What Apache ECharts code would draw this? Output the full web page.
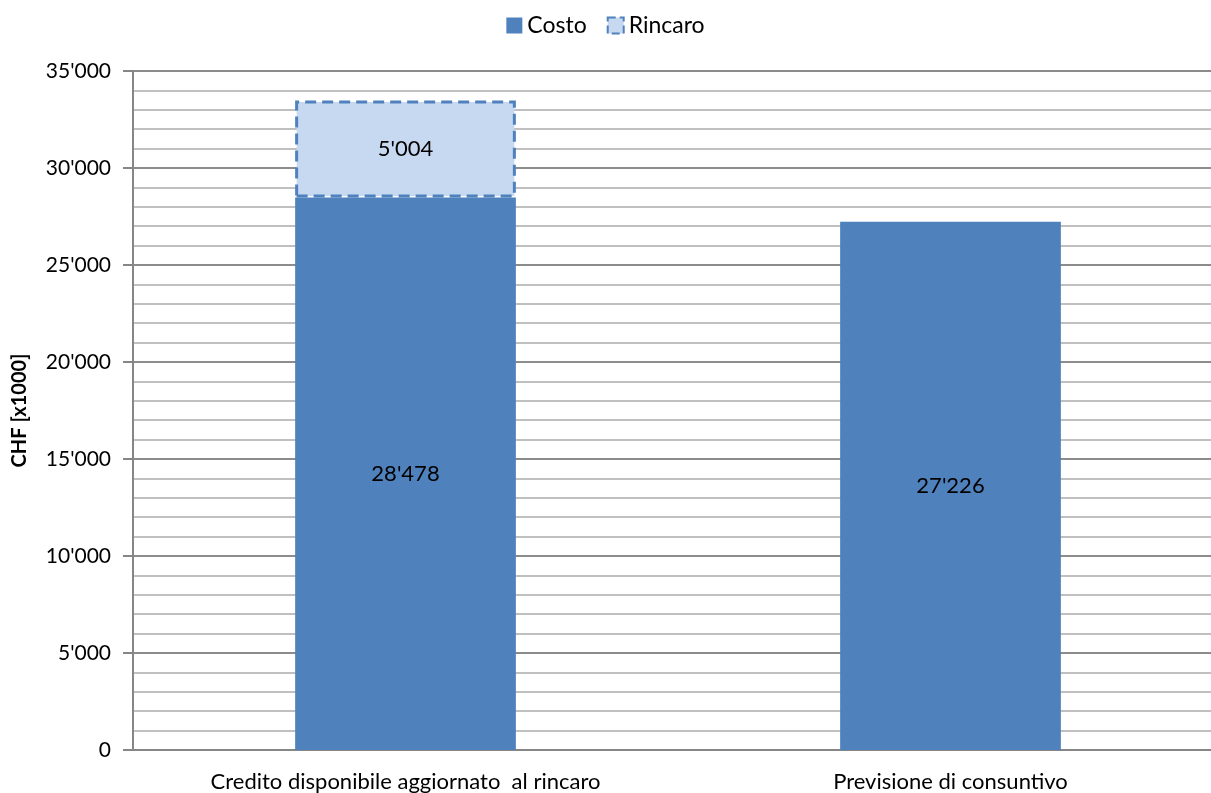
<!DOCTYPE html>
<html><head><meta charset="utf-8">
<script src="https://cdn.jsdelivr.net/npm/echarts@6/dist/echarts.min.js"></script>
<style>html,body{margin:0;padding:0;background:#fff;overflow:hidden}#c{width:1211px;height:793px}</style>
</head><body><div id="c"></div>
<script>
const categories = ["Credito disponibile aggiornato  al rincaro", "Previsione di consuntivo"];
const costo = [28478, 27226];
const rincaro = [5004, null];
const yTicks = [0, 5000, 10000, 15000, 20000, 25000, 30000, 35000];

function fmt(v){ return String(Math.round(v)).replace(/\B(?=(\d{3})+(?!\d))/g, "'"); }

const FONT = 'Lato';
const chart = echarts.init(document.getElementById('c'));
chart.setOption({
  animation: false,
  textStyle: { fontFamily: FONT },
  legend: {
    top: 9, left: 'center', itemWidth: 16, itemHeight: 16, itemGap: 20,
    textStyle: { fontSize: 23, color: '#000', fontFamily: FONT },
    data: [
      { name: 'Costo', icon: 'rect' },
      { name: 'Rincaro', icon: 'rect', itemStyle: { color: '#c6d9f1', borderColor: '#4f81bd', borderWidth: 2, borderType: 'dashed' } }
    ]
  },
  grid: { left: 133, width: 1090, top: 71, height: 679, outerBoundsMode: 'none', containLabel: false },
  xAxis: {
    type: 'category', data: categories,
    axisLine: { show: true, lineStyle: { color: '#868686', width: 2 } },
    axisTick: { show: false },
    axisLabel: { fontSize: 22, color: '#000', margin: 21, fontFamily: FONT }
  },
  yAxis: {
    type: 'value', min: yTicks[0], max: yTicks[yTicks.length-1], interval: 5000,
    name: 'CHF [x1000]', nameLocation: 'middle', nameGap: 103, nameRotate: 90,
    nameTextStyle: { fontSize: 20, fontWeight: 'bold', color: '#000', fontFamily: FONT },
    axisLine: { show: true, lineStyle: { color: '#868686', width: 2 } },
    axisTick: { show: true, length: 10, lineStyle: { color: '#868686', width: 2 } },
    axisLabel: { fontSize: 21, color: '#000', margin: 22, formatter: fmt, fontFamily: FONT },
    splitLine: { show: true, lineStyle: { color: '#8c8c8c', width: 2 } },
    minorTick: { show: false, splitNumber: 5 },
    minorSplitLine: { show: true, lineStyle: { color: '#c0c0c0', width: 2 } }
  },
  series: [
    {
      name: 'Costo', type: 'bar', stack: 's', data: costo, barWidth: '40.5%',
      itemStyle: { color: '#4f81bd' },
      label: { show: true, position: 'inside', color: '#000', fontSize: 22, formatter: p => fmt(p.value), fontFamily: FONT }
    },
    {
      name: 'Rincaro', type: 'bar', stack: 's', data: rincaro, barWidth: '40.5%',
      itemStyle: { color: '#c6d9f1', borderColor: '#4f81bd', borderWidth: 3, borderType: [11, 6] },
      label: { show: true, position: 'inside', color: '#000', fontSize: 22, formatter: p => p.value == null ? '' : fmt(p.value), fontFamily: FONT }
    }
  ]
});
</script></body></html>
